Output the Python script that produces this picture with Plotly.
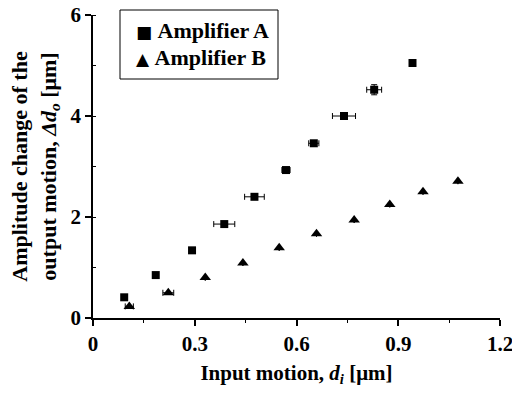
import plotly.graph_objects as go

# Amplifier A (squares)
a_x = [0.092, 0.185, 0.292, 0.387, 0.476, 0.569, 0.651, 0.740, 0.829, 0.942]
a_y = [0.41, 0.85, 1.34, 1.86, 2.40, 2.93, 3.46, 4.00, 4.52, 5.05]
a_xerr = [0.0, 0.008, 0.0, 0.031, 0.029, 0.012, 0.015, 0.034, 0.022, 0.0]
a_yerr = [0.0, 0.0, 0.0, 0.0, 0.0, 0.0, 0.0, 0.0, 0.10, 0.0]

# Amplifier B (triangles)
b_x = [0.107, 0.222, 0.331, 0.442, 0.549, 0.659, 0.770, 0.875, 0.973, 1.076]
b_y = [0.23, 0.50, 0.80, 1.09, 1.39, 1.67, 1.94, 2.25, 2.50, 2.71]
b_xerr = [0.012, 0.016, 0.0, 0.0, 0.0, 0.0, 0.0, 0.0, 0.0, 0.0]

series_names = ["Amplifier A", "Amplifier B"]
series_glyphs = ["■", "▲"]

x_ticks = [0, 0.3, 0.6, 0.9, 1.2]
x_ticklabels = ["<b>0</b>", "<b>0.3</b>", "<b>0.6</b>", "<b>0.9</b>", "<b>1.2</b>"]
y_ticks = [0, 2, 4, 6]
y_ticklabels = ["<b>0</b>", "<b>2</b>", "<b>4</b>", "<b>6</b>"]

FONT = "Liberation Serif"

fig = go.Figure()
fig.add_trace(go.Scatter(
    x=a_x, y=a_y, mode="markers", name=series_names[0], showlegend=False,
    marker=dict(symbol="square", size=8, color="black"),
    error_x=dict(type="data", array=a_xerr, color="black", thickness=1, width=3),
    error_y=dict(type="data", array=a_yerr, color="black", thickness=1, width=3),
))
fig.add_trace(go.Scatter(
    x=b_x, y=b_y, mode="markers", name=series_names[1], showlegend=False,
    marker=dict(symbol="triangle-up", size=10, color="black"),
    error_x=dict(type="data", array=b_xerr, color="black", thickness=1, width=3),
))

# Legend box (drawn as shape + annotations so the serif font is preserved)
L, T, R, B = 120, 10, 278, 79
pl, pt, pw, ph = 93, 15, 407, 303
def px2x(px):
    return (px - pl) / pw
def py2y(py):
    return (pt + ph - py) / ph

fig.add_shape(type="rect", xref="paper", yref="paper",
              x0=px2x(L), x1=px2x(R), y0=py2y(B), y1=py2y(T),
              line=dict(color="black", width=1), fillcolor="white", layer="above")
for i, (g, n) in enumerate(zip(series_glyphs, series_names)):
    fig.add_annotation(
        xref="paper", yref="paper", x=px2x(134), y=py2y(30 + 27 * i),
        xanchor="left", yanchor="middle", showarrow=False,
        text=f'<span style="font-family:DejaVu Sans;font-size:17px">{g}</span> <b>{n}</b>',
        font=dict(family=FONT, size=22, color="black"),
    )

fig.update_layout(
    width=512, height=393,
    margin=dict(l=pl, r=512 - pl - pw, t=pt, b=393 - pt - ph),
    paper_bgcolor="white", plot_bgcolor="white",
    font=dict(family=FONT, color="black", size=18),
    showlegend=False,
    xaxis=dict(
        range=[0, 1.2], tickvals=x_ticks, ticktext=x_ticklabels,
        showline=True, linecolor="black", linewidth=1.5, mirror=False,
        showgrid=False, zeroline=False, automargin=False, ticklabeloverflow="allow",
        ticks="outside", ticklen=6, tickcolor="black", tickwidth=1.5,
        minor=dict(dtick=0.15, tick0=0, ticks="outside", ticklen=3, tickcolor="black", tickwidth=1),
        tickfont=dict(family=FONT, size=21),
        title=dict(text="<b>Input motion, <i>d<sub>i</sub></i> [μm]</b>", standoff=10,
                   font=dict(family=FONT, size=21)),
    ),
    yaxis=dict(
        range=[0, 6], tickvals=y_ticks, ticktext=y_ticklabels,
        showline=True, linecolor="black", linewidth=1.5, mirror=False,
        showgrid=False, zeroline=False, automargin=False,
        ticks="outside", ticklen=6, tickcolor="black", tickwidth=1.5,
        minor=dict(dtick=1, tick0=0, ticks="inside", ticklen=3, tickcolor="black", tickwidth=1),
        tickfont=dict(family=FONT, size=21),
        title=dict(text="<b>Amplitude change of the<br>output motion, <i>Δd<sub>o</sub></i> [μm]</b>",
                   standoff=8, font=dict(family=FONT, size=22)),
    ),
)

fig.write_html("out.html")
